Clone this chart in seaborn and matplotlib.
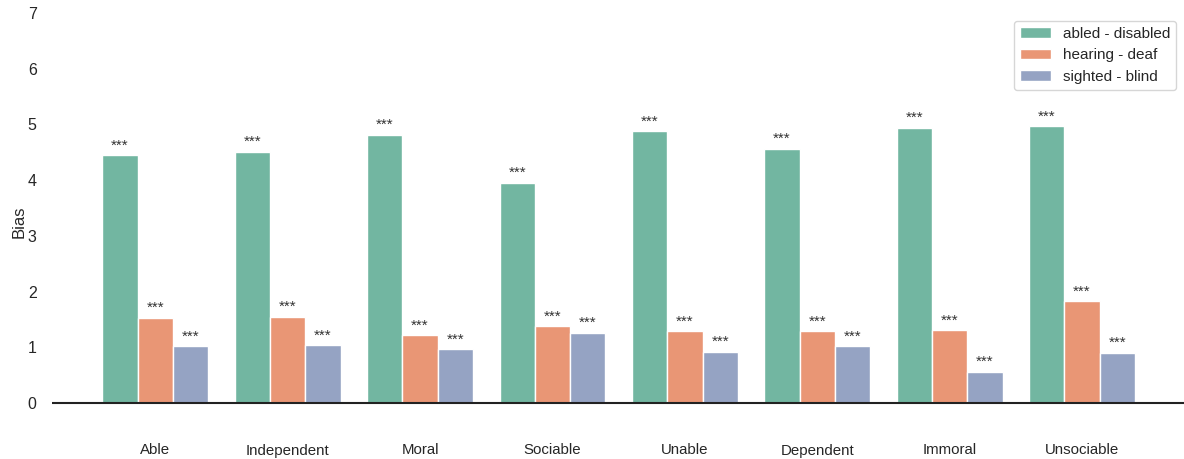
import seaborn as sns
import matplotlib.pyplot as plt
import pandas as pd

# Data
traits = ['Able', 'Independent', 'Moral', 'Sociable',
          'Unable', 'Dependent', 'Immoral', 'Unsociable']
groups = ['abled - disabled', 'hearing - deaf', 'sighted - blind']
abled_disabled = [4.45, 4.51, 4.81, 3.95, 4.88, 4.56, 4.94, 4.97]
hearing_deaf = [1.53, 1.55, 1.22, 1.38, 1.29, 1.29, 1.31, 1.83]
sighted_blind = [1.02, 1.04, 0.97, 1.26, 0.92, 1.02, 0.56, 0.90]
stars = ['***'] * len(traits)


def build_frame():
    '''
    Stacks the series into a long dataframe for seaborn
    '''
    rows = []
    for group, values in zip(groups, [abled_disabled, hearing_deaf, sighted_blind]):
        for trait, value in zip(traits, values):
            rows.append({'trait': trait, 'group': group, 'bias': value})
    return pd.DataFrame(rows)


def bias_barplot(df: pd.DataFrame):
    sns.set_theme(style='white')
    plt.rcParams['font.family'] = ['Liberation Sans', 'DejaVu Sans']

    fig = plt.figure(figsize=(11.84, 4.59), dpi=100)
    ax = fig.add_axes([52 / 1184, 1 - 431 / 459, 1 - 52 / 1184, (431 - 13) / 459])

    sns.barplot(data=df, x='trait', y='bias', hue='group',
                palette='Set2', ax=ax)

    # significance stars above every bar
    for container in ax.containers:
        ax.bar_label(container, labels=stars, padding=2,
                     fontsize=11, color='#333333')

    ax.axhline(0, color='#222222', linewidth=1.5)
    ax.set_ylim(-0.5, 7)
    ax.set_xlim(-0.78, 7.77)
    ax.set_yticks(range(0, 8))
    ax.tick_params(axis='y', labelsize=11.5, pad=5)
    ax.tick_params(axis='x', labelsize=10.8, pad=3)
    ax.set_xlabel('')
    ax.set_ylabel('Bias', fontsize=12, labelpad=1)
    sns.despine(ax=ax, left=True, bottom=True)

    ax.legend(loc='upper right', fontsize=11, frameon=True,
              bbox_to_anchor=(1.0, 1.0), title=None)

    fig.savefig('out.png', dpi=100)
    plt.close()


bias_barplot(build_frame())
